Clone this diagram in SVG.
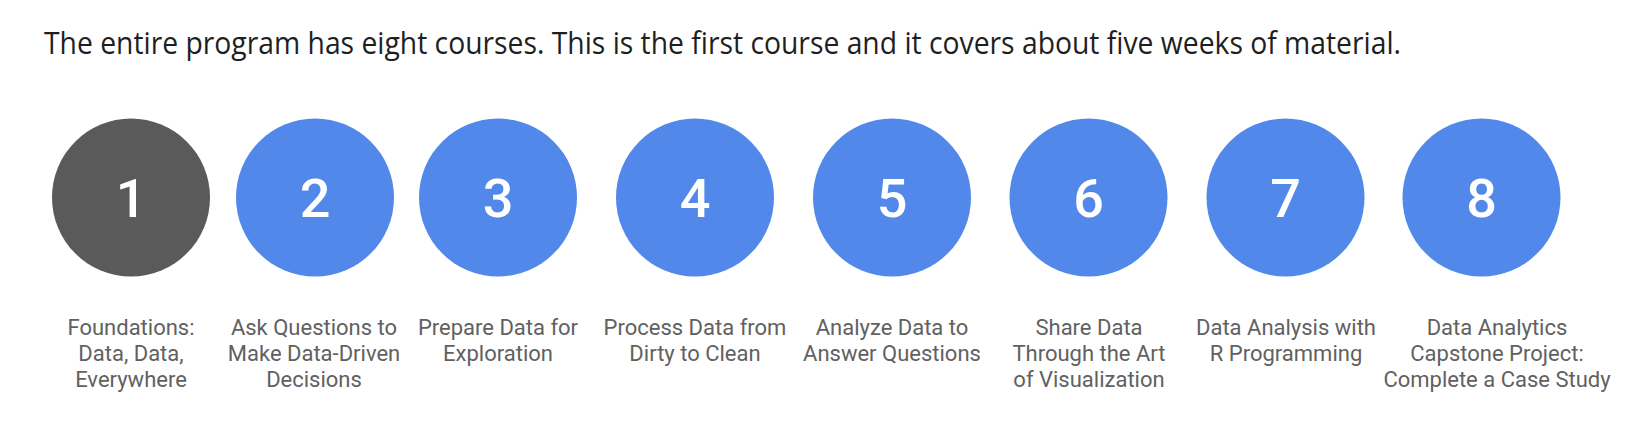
<svg xmlns="http://www.w3.org/2000/svg" width="1634" height="422" viewBox="0 0 1634 422">
<style>
.title{font-family:"Source Sans Pro","Open Sans","Noto Sans",sans-serif;font-size:31px;fill:#1f1f1f}
.c{fill:#5388eb}
.c1{fill:#5a5a5a}
.num{font-family:Roboto,"Liberation Sans",sans-serif;font-weight:500;font-size:54px;fill:#ffffff;text-anchor:middle}
.lbl{font-family:Roboto,"Liberation Sans",sans-serif;font-size:22px;fill:#616161;text-anchor:middle}
</style>
<rect width="1634" height="422" fill="#ffffff"/>
<text class="title" x="44" y="53.5" textLength="1357" lengthAdjust="spacingAndGlyphs">The entire program has eight courses. This is the first course and it covers about five weeks of material.</text>
<g id="connectors"/>
<g id="n1"><circle class="c1" cx="131" cy="197.5" r="79"/><text class="num" x="131" y="217">1</text>
<text class="lbl" x="131" y="335">Foundations:</text><text class="lbl" x="131" y="361">Data, Data,</text><text class="lbl" x="131" y="387">Everywhere</text></g>
<g id="n2"><circle class="c" cx="315" cy="197.5" r="79"/><text class="num" x="315" y="217">2</text>
<text class="lbl" x="314" y="335">Ask Questions to</text><text class="lbl" x="314" y="361">Make Data-Driven</text><text class="lbl" x="314" y="387">Decisions</text></g>
<g id="n3"><circle class="c" cx="498" cy="197.5" r="79"/><text class="num" x="498" y="217">3</text>
<text class="lbl" x="498" y="335">Prepare Data for</text><text class="lbl" x="498" y="361">Exploration</text></g>
<g id="n4"><circle class="c" cx="695" cy="197.5" r="79"/><text class="num" x="695" y="217">4</text>
<text class="lbl" x="695" y="335">Process Data from</text><text class="lbl" x="695" y="361">Dirty to Clean</text></g>
<g id="n5"><circle class="c" cx="892" cy="197.5" r="79"/><text class="num" x="892" y="217">5</text>
<text class="lbl" x="892" y="335">Analyze Data to</text><text class="lbl" x="892" y="361">Answer Questions</text></g>
<g id="n6"><circle class="c" cx="1088.5" cy="197.5" r="79"/><text class="num" x="1088.5" y="217">6</text>
<text class="lbl" x="1089" y="335">Share Data</text><text class="lbl" x="1089" y="361">Through the Art</text><text class="lbl" x="1089" y="387">of Visualization</text></g>
<g id="n7"><circle class="c" cx="1285.5" cy="197.5" r="79"/><text class="num" x="1285.5" y="217">7</text>
<text class="lbl" x="1286" y="335">Data Analysis with</text><text class="lbl" x="1286" y="361">R Programming</text></g>
<g id="n8"><circle class="c" cx="1481.5" cy="197.5" r="79"/><text class="num" x="1481.5" y="217">8</text>
<text class="lbl" x="1497" y="335">Data Analytics</text><text class="lbl" x="1497" y="361">Capstone Project:</text><text class="lbl" x="1497" y="387">Complete a Case Study</text></g>
</svg>
